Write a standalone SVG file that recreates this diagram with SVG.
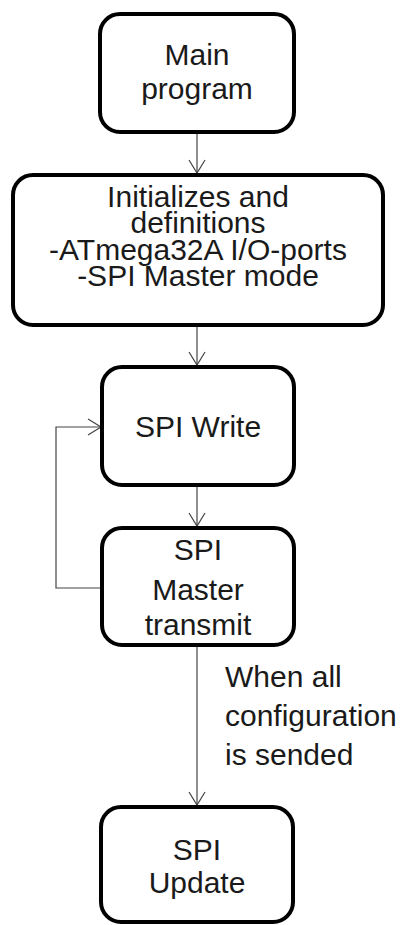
<svg xmlns="http://www.w3.org/2000/svg" width="405" height="925" viewBox="0 0 405 925">
<style>
.box{fill:#fff;stroke:#000;stroke-width:4}
.t{font-family:"Liberation Sans",Arial,sans-serif;font-size:30px;fill:#1a1a1a;text-anchor:middle}
.l{font-family:"Liberation Sans",Arial,sans-serif;font-size:30px;fill:#1a1a1a}
.c{fill:none;stroke:#444;stroke-width:1.2}
</style>
<defs>
<marker id="ah" markerUnits="userSpaceOnUse" markerWidth="20" markerHeight="20" viewBox="-14 -10 16 20" refX="0" refY="0" orient="auto">
<path d="M-13,-8 L0,0 L-13,8" fill="none" stroke="#444" stroke-width="1.2"/>
</marker>
</defs>
<rect width="405" height="925" fill="#fff"/>
<g id="connectors">
<line class="c" x1="197" y1="132" x2="197" y2="173" marker-end="url(#ah)"/>
<line class="c" x1="197" y1="325" x2="197" y2="365" marker-end="url(#ah)"/>
<line class="c" x1="197" y1="485" x2="197" y2="526" marker-end="url(#ah)"/>
<polyline class="c" points="102,588 56,588 56,427 101,427" marker-end="url(#ah)"/>
<line class="c" x1="197" y1="645" x2="197" y2="805" marker-end="url(#ah)"/>
<g id="label">
<text class="l" x="225" y="687">When all</text>
<text class="l" x="225" y="726">configuration</text>
<text class="l" x="225" y="765">is sended</text>
</g>
</g>
<g id="main">
<rect class="box" x="100" y="14" width="194" height="118" rx="20"/>
<text class="t" x="197" y="65">Main</text>
<text class="t" x="197" y="99">program</text>
</g>
<g id="init">
<rect class="box" x="13" y="175" width="370" height="150" rx="20"/>
<text class="t" x="198" y="207">Initializes and</text>
<text class="t" x="198" y="233">definitions</text>
<text class="t" x="198" y="260">-ATmega32A I/O-ports</text>
<text class="t" x="198" y="286">-SPI Master mode</text>
</g>
<g id="write">
<rect class="box" x="102" y="367" width="192" height="118" rx="20"/>
<text class="t" x="198" y="437">SPI Write</text>
</g>
<g id="transmit">
<rect class="box" x="102" y="528" width="192" height="117" rx="20"/>
<text class="t" x="198" y="560">SPI</text>
<text class="t" x="198" y="600">Master</text>
<text class="t" x="198" y="635">transmit</text>
</g>
<g id="update">
<rect class="box" x="101" y="807" width="192" height="115" rx="20"/>
<text class="t" x="197" y="860">SPI</text>
<text class="t" x="197" y="893">Update</text>
</g>
</svg>
